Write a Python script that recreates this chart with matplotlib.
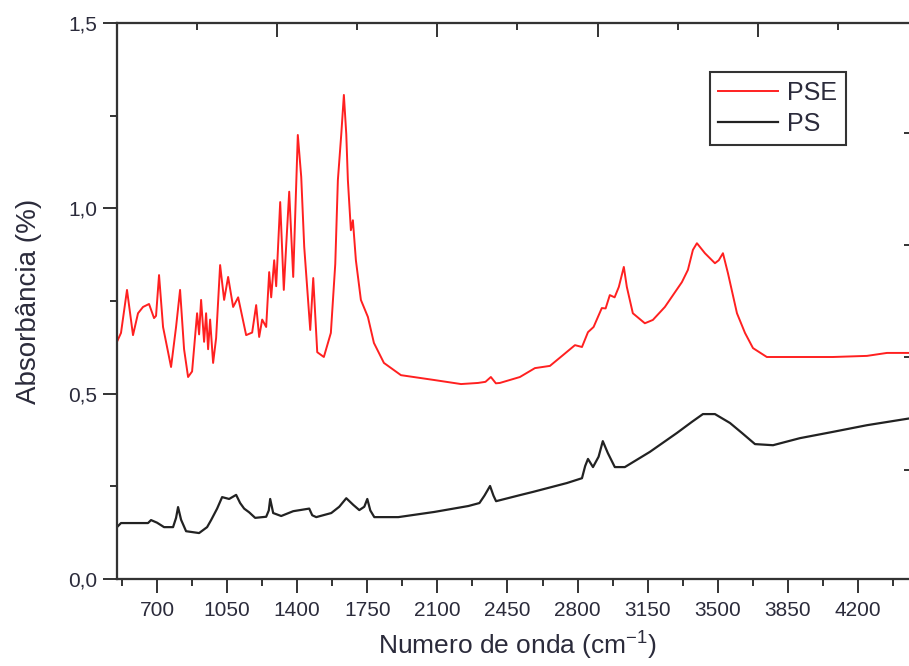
import numpy as np
import matplotlib
matplotlib.use('Agg')
import matplotlib.pyplot as plt
from matplotlib.ticker import MultipleLocator, FixedLocator

plt.rcParams['font.family'] = ['Liberation Sans', 'DejaVu Sans']
plt.rcParams['mathtext.default'] = 'regular'

# PSE spectrum (red)
pse_x = [500, 520, 550, 580, 605, 630, 660, 685, 695, 710,
         730, 770, 795, 815, 835, 855, 875, 900, 910, 920,
         935, 945, 955, 965, 980, 995, 1015, 1035, 1055, 1080,
         1105, 1145, 1175, 1195, 1210, 1225, 1245, 1260, 1270, 1285,
         1295, 1315, 1333, 1345, 1360, 1380, 1403, 1420, 1435, 1465,
         1480, 1500, 1533, 1568, 1590, 1603, 1620, 1633, 1645, 1653,
         1668, 1678, 1693, 1718, 1753, 1783, 1833, 1918, 2083, 2218,
         2303, 2340, 2367, 2392, 2412, 2512, 2587, 2662, 2727, 2787,
         2822, 2852, 2880, 2921, 2940, 2961, 2985, 3006, 3031, 3046,
         3076, 3136, 3176, 3236, 3321, 3351, 3376, 3396, 3436, 3486,
         3505, 3526, 3551, 3596, 3636, 3676, 3745, 3910, 4075, 4245,
         4345, 4500]
pse_y = [0.640, 0.664, 0.780, 0.658, 0.717, 0.734, 0.742, 0.704, 0.710, 0.820,
         0.680, 0.572, 0.680, 0.780, 0.620, 0.545, 0.560, 0.717, 0.660, 0.753,
         0.640, 0.717, 0.620, 0.700, 0.583, 0.650, 0.847, 0.753, 0.815, 0.734,
         0.760, 0.658, 0.665, 0.739, 0.653, 0.700, 0.680, 0.828, 0.760, 0.860,
         0.790, 1.017, 0.780, 0.900, 1.045, 0.815, 1.198, 1.085, 0.896, 0.672,
         0.812, 0.612, 0.599, 0.664, 0.850, 1.076, 1.200, 1.306, 1.200, 1.076,
         0.941, 0.968, 0.860, 0.753, 0.707, 0.637, 0.583, 0.550, 0.537, 0.526,
         0.529, 0.532, 0.545, 0.528, 0.529, 0.545, 0.569, 0.575, 0.604, 0.631,
         0.626, 0.666, 0.680, 0.731, 0.730, 0.766, 0.760, 0.788, 0.842, 0.788,
         0.717, 0.690, 0.699, 0.734, 0.801, 0.834, 0.888, 0.906, 0.879, 0.852,
         0.860, 0.879, 0.825, 0.717, 0.664, 0.623, 0.599, 0.599, 0.599, 0.602,
         0.610, 0.610]

# PS spectrum (black)
ps_x = [500, 520, 655, 670, 700, 735, 780, 795, 805, 820,
        845, 910, 950, 970, 1000, 1025, 1060, 1095, 1115, 1135,
        1160, 1190, 1245, 1258, 1265, 1280, 1320, 1380, 1460, 1475,
        1495, 1570, 1610, 1645, 1680, 1710, 1735, 1750, 1765, 1785,
        1905, 2085, 2255, 2310, 2335, 2363, 2380, 2393, 2517, 2577,
        2747, 2822, 2838, 2852, 2877, 2905, 2926, 2951, 2986, 3036,
        3161, 3296, 3371, 3426, 3486, 3561, 3621, 3686, 3776, 3910,
        4075, 4245, 4500]
ps_y = [0.140, 0.151, 0.151, 0.159, 0.152, 0.140, 0.140, 0.165, 0.194, 0.160,
        0.129, 0.124, 0.140, 0.159, 0.190, 0.221, 0.216, 0.227, 0.205, 0.190,
        0.180, 0.165, 0.168, 0.185, 0.216, 0.178, 0.170, 0.183, 0.190, 0.172,
        0.167, 0.178, 0.195, 0.218, 0.200, 0.186, 0.195, 0.216, 0.185, 0.167,
        0.167, 0.181, 0.197, 0.205, 0.225, 0.251, 0.225, 0.210, 0.227, 0.235,
        0.259, 0.272, 0.305, 0.324, 0.302, 0.330, 0.372, 0.340, 0.302, 0.302,
        0.343, 0.394, 0.424, 0.445, 0.445, 0.421, 0.394, 0.364, 0.361, 0.380,
        0.397, 0.415, 0.437]

x_ticks = [700, 1050, 1400, 1750, 2100, 2450, 2800, 3150, 3500, 3850, 4200]
y_ticks = [0.0, 0.5, 1.0, 1.5]
y_labels = ['0,0', '0,5', '1,0', '1,5']

axis_col = '#333333'
text_col = '#2b2b3b'

fig = plt.figure(figsize=(9.09, 6.66), dpi=100)
ax = fig.add_axes([0.1287, 0.1306, 0.8812, 0.8348])

ax.plot(pse_x, pse_y, color='#ff2020', lw=1.4, label='PSE')
ax.plot(ps_x, ps_y, color='#222222', lw=1.6, label='PS')

ax.set_xlim(500, 4500)
ax.set_ylim(0, 1.5)

ax.set_xticks(x_ticks)
ax.xaxis.set_minor_locator(MultipleLocator(350, offset=175))
ax.set_yticks(y_ticks)
ax.set_yticklabels(y_labels)
ax.yaxis.set_minor_locator(MultipleLocator(0.25))

ax.tick_params(which='major', direction='out', length=10, width=1.4, color=axis_col,
               labelsize=15, labelcolor=text_col, pad=4)
ax.tick_params(which='minor', direction='out', length=5, width=1.4, color=axis_col)
ax.tick_params(axis='x', pad=6)
for s in ax.spines.values():
    s.set_color(axis_col)
    s.set_linewidth(1.5)

# top and right axes have their own tick marks, pointing inward
top = ax.twiny()
top.set_xlim(ax.get_xlim())
top.xaxis.set_major_locator(FixedLocator([1300, 2100, 2900, 3700]))
top.xaxis.set_minor_locator(FixedLocator([900, 1700, 2500, 3300, 4100]))
top.tick_params(which='major', direction='in', length=10, width=1.4, color=axis_col, labeltop=False)
top.tick_params(which='minor', direction='in', length=5, width=1.4, color=axis_col)
right = ax.twinx()
right.set_ylim(ax.get_ylim())
right.yaxis.set_major_locator(FixedLocator([0.294, 0.599, 0.901, 1.203]))
right.yaxis.set_minor_locator(FixedLocator([]))
right.tick_params(which='major', direction='in', length=10, width=1.4, color=axis_col, labelright=False)
for a in (top, right):
    for s in a.spines.values():
        s.set_color(axis_col)
        s.set_linewidth(1.5)

ax.set_xlabel('Numero de onda (cm$^{-1}$)', fontsize=19, color=text_col, labelpad=7)
ax.set_ylabel('Absorbância (%)', fontsize=20, color=text_col, labelpad=19)

leg = ax.legend(loc='upper left', bbox_to_anchor=(0.740, 0.912), fontsize=18,
                frameon=True, fancybox=False, edgecolor='#333333', framealpha=1,
                handlelength=2.4, handletextpad=0.35, borderpad=0.35,
                labelspacing=0.3, borderaxespad=0)
leg.get_frame().set_linewidth(1.5)
for t in leg.get_texts():
    t.set_color(text_col)

fig.savefig('out.png', dpi=100)
